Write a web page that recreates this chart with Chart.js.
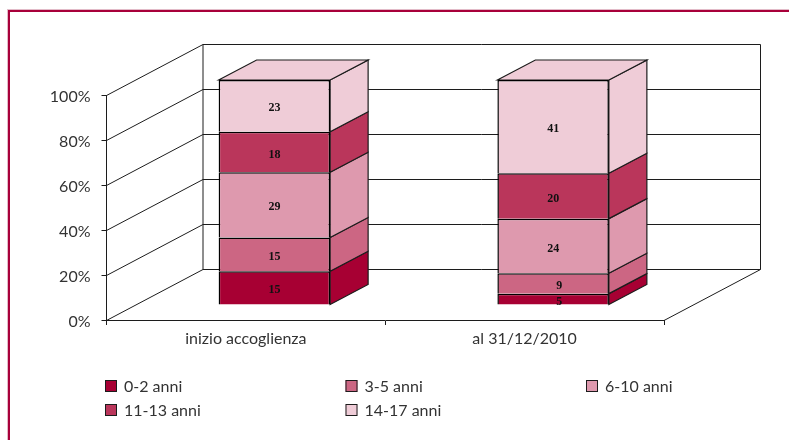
<!DOCTYPE html>
<html>
<head>
<meta charset="utf-8">
<style>
html,body{margin:0;padding:0;background:#fff;overflow:hidden}
#wrap{position:relative;width:789px;height:440px;overflow:hidden}
#frame{position:absolute;left:8px;top:10px;width:800px;height:450px;border-left:2px solid #A8003A;border-top:2px solid #A8003A;box-shadow:-1px -1px 0 #E2BBC8}
canvas{position:absolute;left:0;top:0}
</style>
<script src="https://cdn.jsdelivr.net/npm/chart.js@4/dist/chart.umd.min.js"></script>
</head>
<body>
<div id="wrap"><div id="frame"></div><canvas id="c" width="789" height="440"></canvas></div>
<script>
const categories = ['inizio accoglienza', 'al 31/12/2010'];
const age0to2   = [15, 5];
const age3to5   = [15, 9];
const age6to10  = [29, 24];
const age11to13 = [18, 20];
const age14to17 = [23, 41];
const seriesNames  = ['0-2 anni', '3-5 anni', '6-10 anni', '11-13 anni', '14-17 anni'];
const seriesColors = ['#A70033', '#CC6683', '#DE99AE', '#BA365B', '#EFCCD7'];
const yTicks = [0, 20, 40, 60, 80, 100];

const rawSeries = [age0to2, age3to5, age6to10, age11to13, age14to17];
const totals = categories.map((_, i) => rawSeries.reduce((s, a) => s + a[i], 0));

const FONT = 'Lato, sans-serif';
const LINE = '#1c1c1c';
const wall = {dx: 96.5, dy: 51};
const front = {dx: 28.5, dy: 15};
const depth = {dx: 38, dy: 20};

const plugin3d = {
  id: 'plugin3d',
  beforeDatasetsDraw(chart) {
    const {ctx, scales: {x, y}, chartArea: a} = chart;
    ctx.save();
    ctx.strokeStyle = LINE;
    ctx.lineWidth = 1;
    ctx.beginPath();
    yTicks.forEach(v => {
      const py = Math.round(y.getPixelForValue(v)) + 0.5;
      ctx.moveTo(a.left, py);
      ctx.lineTo(a.left + wall.dx, py - wall.dy);
      ctx.lineTo(a.right + wall.dx, py - wall.dy);
    });
    const b = Math.round(y.getPixelForValue(0)) + 0.5;
    const t = Math.round(y.getPixelForValue(100)) + 0.5;
    ctx.moveTo(a.left + wall.dx, b - wall.dy);
    ctx.lineTo(a.left + wall.dx, t - wall.dy);
    ctx.moveTo(a.right + wall.dx, b - wall.dy);
    ctx.lineTo(a.right + wall.dx, t - wall.dy);
    ctx.moveTo(a.right + wall.dx, b - wall.dy);
    ctx.lineTo(a.right, b);
    ctx.stroke();
    ctx.restore();

    ctx.save();
    ctx.translate(front.dx, -front.dy);
    chart.data.datasets.forEach((ds, di) => {
      chart.getDatasetMeta(di).data.forEach(bar => {
        const p = bar.getProps(['x', 'y', 'base', 'width'], true);
        const r = p.x + p.width / 2;
        const l = p.x - p.width / 2;
        ctx.fillStyle = ds.backgroundColor;
        ctx.strokeStyle = LINE;
        ctx.lineWidth = 1.2;
        ctx.beginPath();
        ctx.moveTo(r, p.base);
        ctx.lineTo(r + depth.dx, p.base - depth.dy);
        ctx.lineTo(r + depth.dx, p.y - depth.dy);
        ctx.lineTo(r, p.y);
        ctx.closePath();
        ctx.fill();
        ctx.stroke();
        if (di === chart.data.datasets.length - 1) {
          ctx.beginPath();
          ctx.moveTo(l, p.y);
          ctx.lineTo(l + depth.dx, p.y - depth.dy);
          ctx.lineTo(r + depth.dx, p.y - depth.dy);
          ctx.lineTo(r, p.y);
          ctx.closePath();
          ctx.fill();
          ctx.stroke();
        }
      });
    });
  },
  afterDatasetsDraw(chart) {
    const {ctx} = chart;
    ctx.restore();
    ctx.save();
    ctx.fillStyle = '#111';
    ctx.font = 'bold 12px "Liberation Serif", serif';
    ctx.textAlign = 'center';
    ctx.textBaseline = 'middle';
    chart.data.datasets.forEach((ds, di) => {
      chart.getDatasetMeta(di).data.forEach((bar, i) => {
        const p = bar.getProps(['x', 'y', 'base'], true);
        const nudge = Math.abs(p.base - p.y) < 25 ? 6 : 0;
        ctx.fillText(String(rawSeries[di][i]), p.x + front.dx + nudge, (p.y + p.base) / 2 - front.dy + 2.5);
      });
    });
    ctx.restore();
    ctx.save();
    ctx.font = '16px ' + FONT;
    ctx.textBaseline = 'middle';
    ctx.textAlign = 'left';
    const colX = [105, 345.5, 586];
    const rowY = [386, 410];
    chart.data.datasets.forEach((ds, di) => {
      const sx = colX[di % 3], sy = rowY[Math.floor(di / 3)];
      ctx.fillStyle = ds.backgroundColor;
      ctx.fillRect(sx, sy - 6, 12, 12);
      ctx.strokeStyle = LINE;
      ctx.lineWidth = 1;
      ctx.strokeRect(sx + 0.5, sy - 5.5, 11, 11);
      ctx.fillStyle = '#333';
      ctx.fillText(ds.label, sx + 19, sy + 1);
    });
    ctx.restore();
  }
};

new Chart(document.getElementById('c'), {
  type: 'bar',
  data: {
    labels: categories,
    datasets: rawSeries.map((vals, k) => ({
      label: seriesNames[k],
      data: vals.map((v, i) => v / totals[i] * 100),
      backgroundColor: seriesColors[k],
      borderColor: '#000',
      borderWidth: 1.5,
      categoryPercentage: 1,
      barPercentage: 0.4,
      clip: false
    }))
  },
  options: {
    responsive: false,
    animation: false,
    layout: {padding: {left: 0, top: 95, right: 125, bottom: 90}},
    plugins: {legend: {display: false}, title: {display: false}, tooltip: {enabled: false}},
    scales: {
      x: {
        stacked: true,
        afterFit(s) { s.height = 30; },
        border: {color: LINE, width: 1},
        grid: {display: true, drawOnChartArea: false, drawTicks: true, tickLength: 5, color: LINE},
        ticks: {color: '#333', font: {family: FONT, size: 16}, padding: 4, maxRotation: 0}
      },
      y: {
        stacked: true,
        min: 0,
        max: 100,
        afterFit(s) { s.width = 106.5; },
        afterBuildTicks(s) { s.ticks = yTicks.map(v => ({value: v})); },
        border: {color: LINE, width: 1},
        grid: {display: true, drawOnChartArea: false, drawTicks: true, tickLength: 5, color: LINE},
        ticks: {color: '#333', font: {family: FONT, size: 16}, padding: 11, labelOffset: 2, callback: v => v + '%'}
      }
    }
  },
  plugins: [plugin3d]
});
</script>
</body>
</html>
